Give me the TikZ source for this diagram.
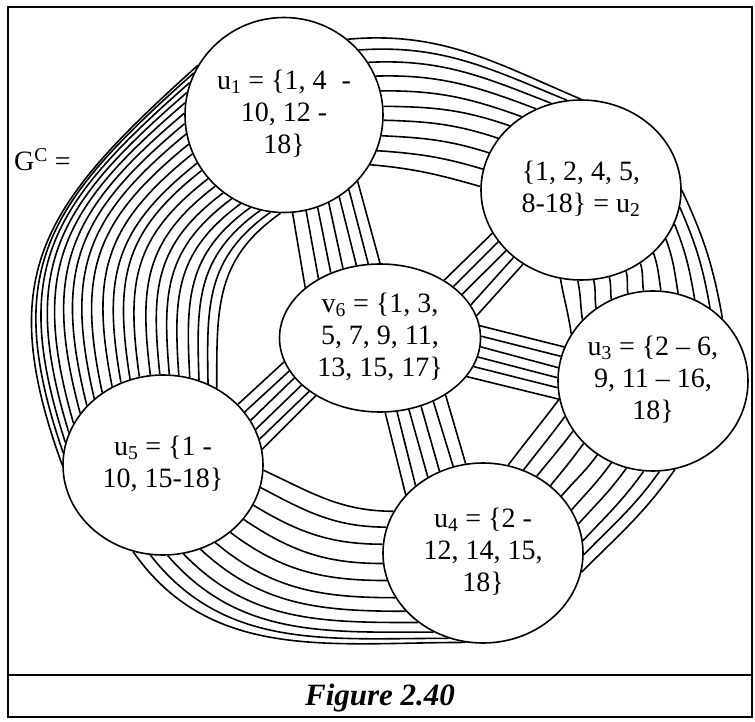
\documentclass[tikz,border=0pt]{standalone}
\usepackage{fontspec}
\setmainfont{Liberation Serif}
\usetikzlibrary{shapes.geometric}
\newcommand\setfnt{\fontsize{28}{32}\selectfont}
\newcommand\lbl[1]{\makebox[0pt]{\begin{tabular}{@{}c@{}}#1\end{tabular}}}
\newcommand\sbundle[7]{%
  \foreach \k in {0,...,#3}{%
    \pgfmathsetmacro\angA{#4+(#5-(#4))*\k/#3}%
    \pgfmathsetmacro\angB{#6+(#7-(#6))*\k/#3}%
    \draw[edge] (#1.\angA) -- (#2.\angB);}}
\newcommand\setcurve[6]{\def\cOa{#1}\def\cOb{#2}\def\cIa{#3}\def\cIb{#4}\def\cLa{#5}\def\cLb{#6}}
\newcommand\cbundle[7]{%
  \foreach \k in {0,...,#3}{%
    \pgfmathsetmacro\angA{#4+(#5-(#4))*\k/#3}%
    \pgfmathsetmacro\angB{#6+(#7-(#6))*\k/#3}%
    \pgfmathsetmacro\angO{\cOa+(\cOb-(\cOa))*\k/#3}%
    \pgfmathsetmacro\angI{\cIa+(\cIb-(\cIa))*\k/#3}%
    \pgfmathsetmacro\loos{\cLa+(\cLb-(\cLa))*\k/#3}%
    \draw[edge] (#1.\angA) to[out=\angO,in=\angI,looseness=\loos] (#2.\angB);}}
\begin{document}
\begin{tikzpicture}[x=1pt,y=-1pt,
  setnode/.style={ellipse, draw, fill=white, line width=1.6pt, inner sep=0pt, font=\setfnt},
  edge/.style={line width=1.6pt},
  frame/.style={line width=2.2pt}]
\useasboundingbox (0,0) rectangle (755,722);
\draw[frame] (8,7) rectangle (752,717);
\draw[frame] (8,675) -- (752,675);
\node[setnode, minimum width=198pt, minimum height=195pt] (u1) at (284,115)
  {\lbl{u\textsubscript{1} = \{1, 4\hspace{8pt} -\\10, 12 -\\18\}}};
\node[setnode, minimum width=200pt, minimum height=180pt] (u2) at (581,190)
  {\lbl{\{1, 2, 4, 5,\\8-18\} = u\textsubscript{2}}};
\node[setnode, minimum width=201pt, minimum height=148pt] (v6) at (380,338)
  {\lbl{v\textsubscript{6} = \{1, 3,\\5, 7, 9, 11,\\13, 15, 17\}}};
\node[setnode, minimum width=190pt, minimum height=180pt] (u3) at (653,381)
  {\lbl{u\textsubscript{3} = \{2 -- 6,\\9, 11 -- 16,\\18\}}};
\node[setnode, minimum width=200pt, minimum height=180pt] (u4) at (483,553)
  {\lbl{u\textsubscript{4} = \{2 -\\12, 14, 15,\\18\}}};
\node[setnode, minimum width=200pt, minimum height=180pt] (u5) at (163,465)
  {\lbl{u\textsubscript{5} = \{1 -\\10, 15-18\}}};
\node[font=\setfnt, anchor=west, inner sep=0pt] (gc) at (14,160) {G\textsuperscript{C} =};
\node[font=\fontsize{31}{34}\selectfont\bfseries\itshape] (cap) at (380,698) {Figure 2.40};
% straight bundles
\sbundle{u1}{v6}{6}{-85}{-42.5}{146}{90}
\sbundle{u2}{v6}{4}{206}{232}{42.7}{13.3}
\sbundle{v6}{u3}{5}{7.6}{-24}{159.5}{191}
\sbundle{v6}{u4}{5}{-86}{-41.5}{143.4}{101.5}
\sbundle{v6}{u5}{5}{194.5}{222.7}{39.6}{9.6}
% curved bundles
\setcurve{5}{-5}{157}{164}{1}{1}
\cbundle{u1}{u2}{9}{50}{-30}{90}{178}
\setcurve{-65}{-80}{100}{98}{1}{1}
\cbundle{u2}{u3}{10}{0}{-103}{42}{150}
\setcurve{-125}{-127}{45}{53}{1}{1}
\cbundle{u3}{u4}{9}{-76}{-169}{-11}{74}
\setcurve{-25}{-55}{180}{180}{1}{1}
\cbundle{u5}{u4}{10}{-3}{-109}{155}{259}
\setcurve{222}{215}{110}{90}{1.25}{1.1}
\cbundle{u1}{u5}{20}{150}{268}{180}{55}
\end{tikzpicture}
\end{document}
